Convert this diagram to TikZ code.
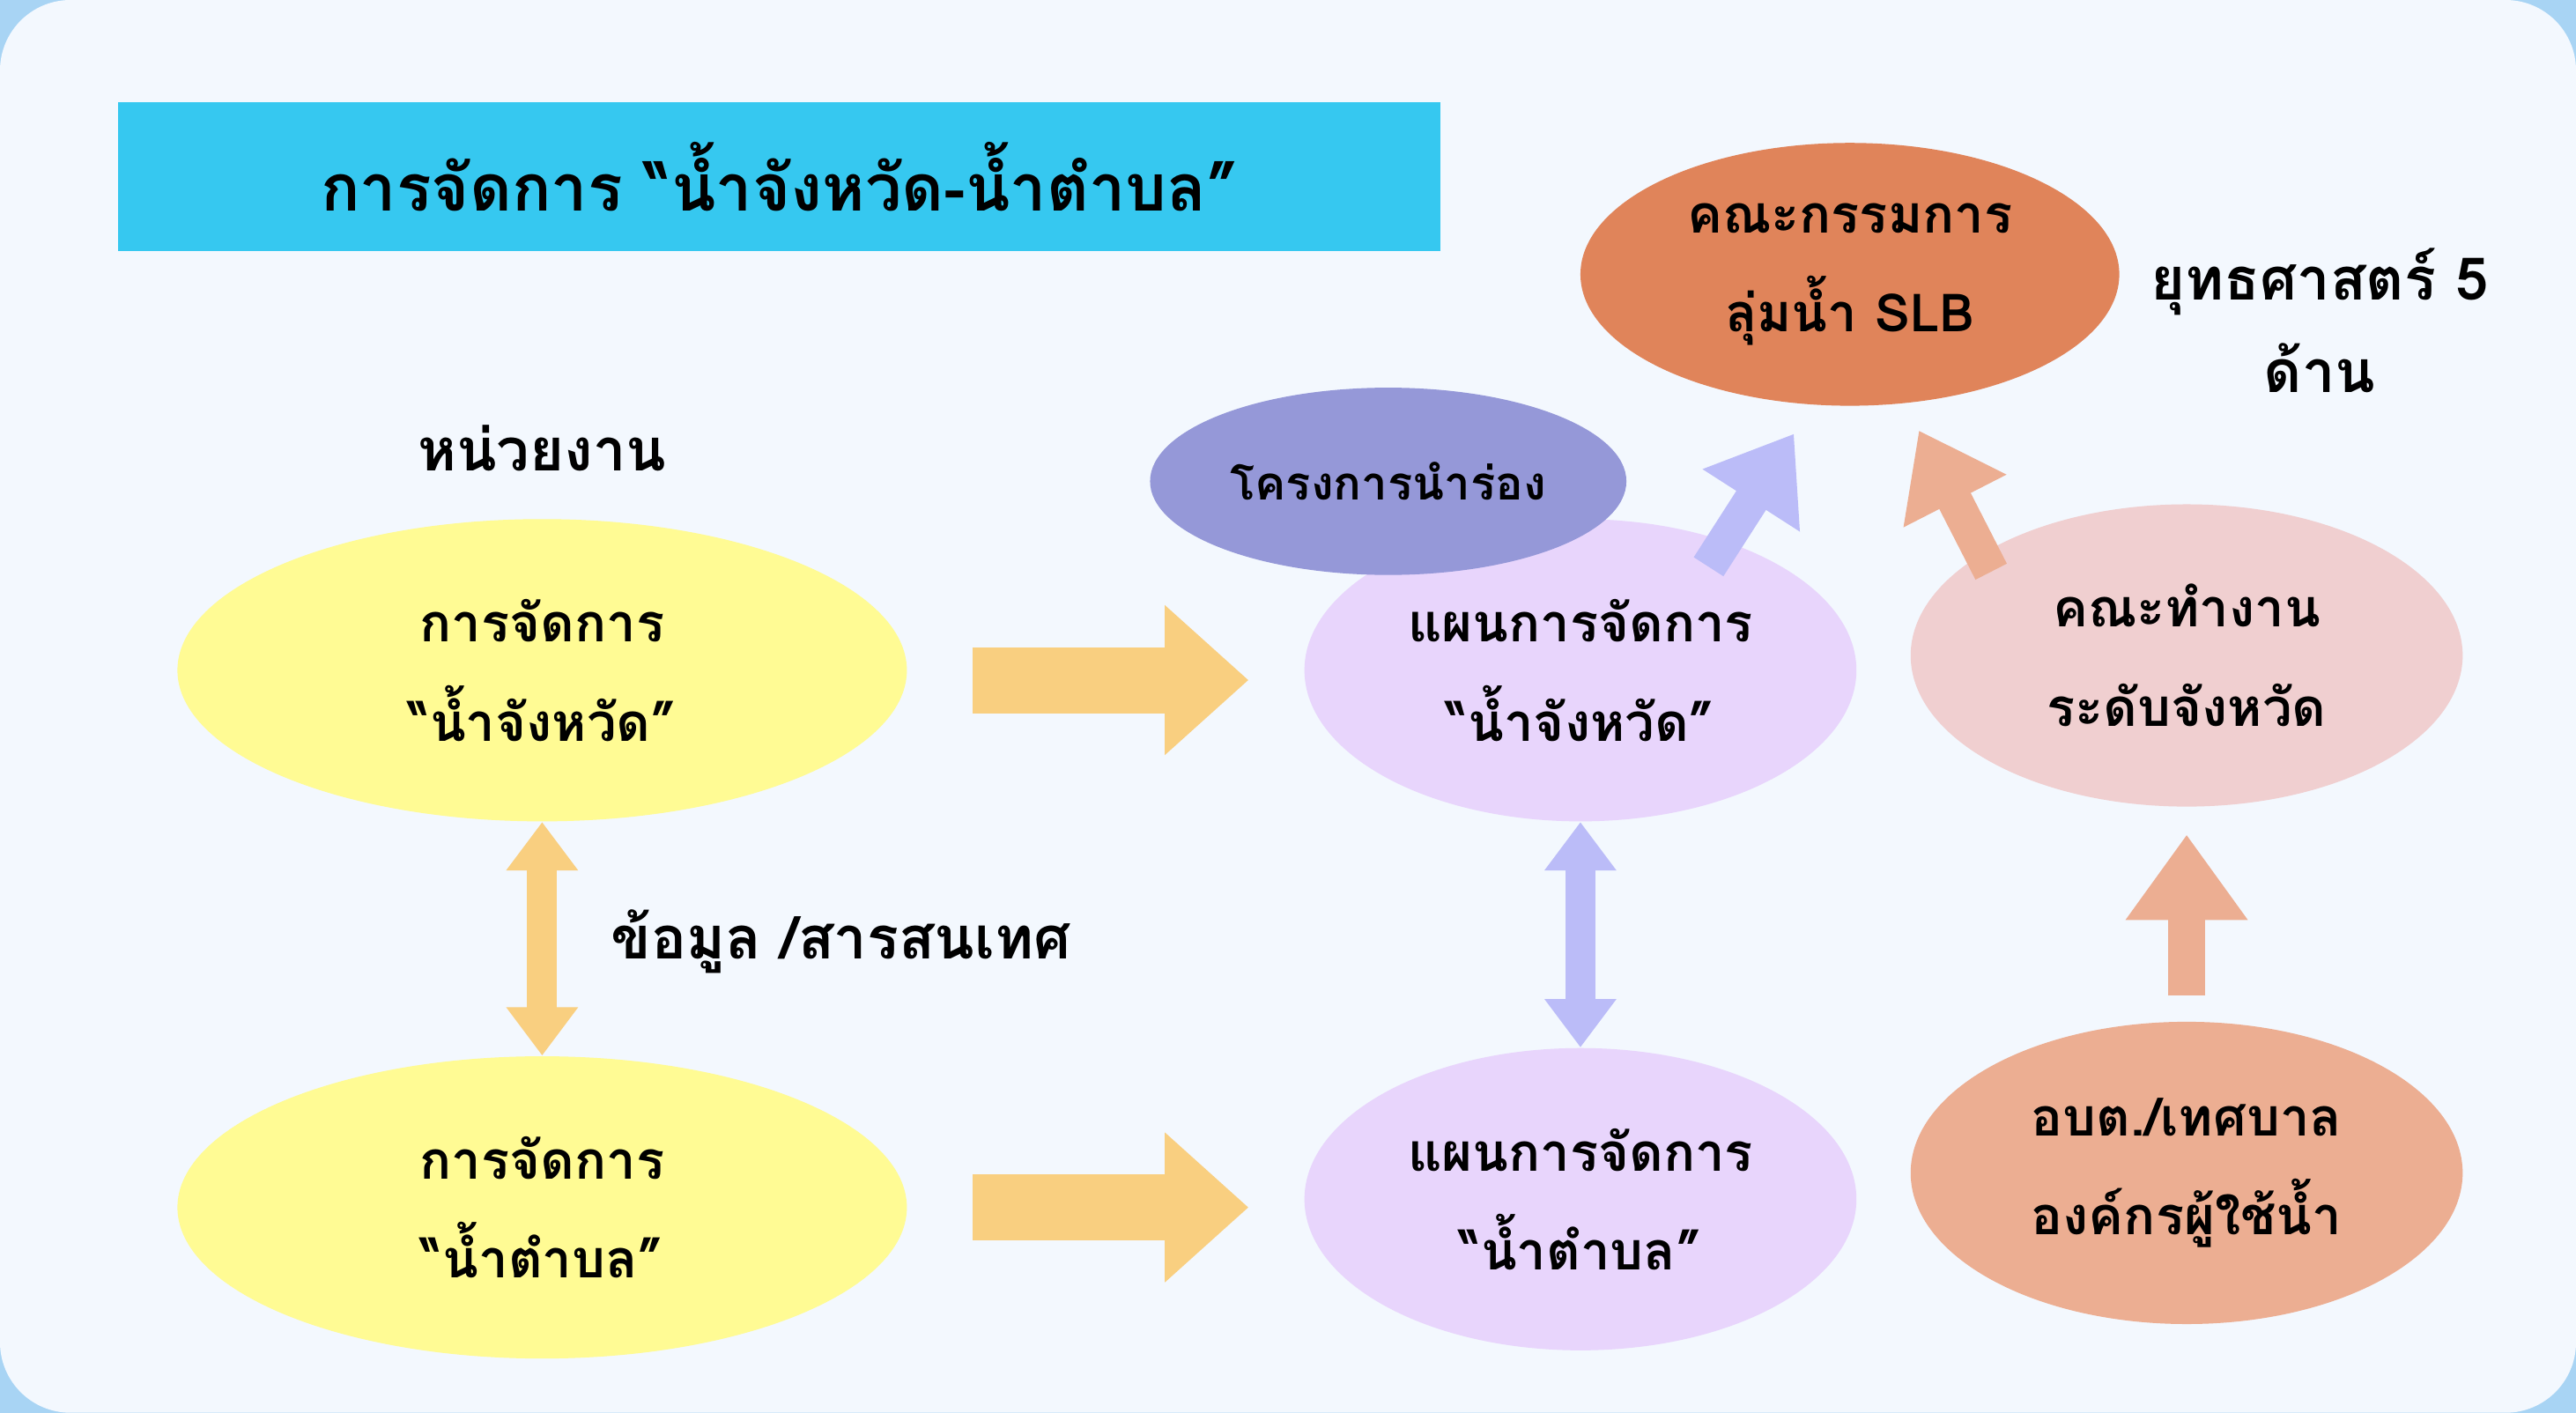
\documentclass[tikz,border=0pt]{standalone}
\usepackage{fontspec}
\newfontfamily\thaifont[Script=Thai]{Loma}
\usepackage{tikz}
\usetikzlibrary{arrows.meta, positioning, shapes.geometric}
\definecolor{bgblue}{HTML}{A8D4F4}
\definecolor{panel}{HTML}{F3F8FE}
\definecolor{titlecyan}{HTML}{36C8F0}
\definecolor{lemon}{HTML}{FFFB94}
\definecolor{lilac}{HTML}{E8D5FC}
\definecolor{violet}{HTML}{9598D8}
\definecolor{rust}{HTML}{E0845A}
\definecolor{rose}{HTML}{F0CFD0}
\definecolor{salmon}{HTML}{ECAE92}
\definecolor{mango}{HTML}{F9CF80}
\definecolor{periw}{HTML}{BBBCF8}
\tikzset{
  blob/.style={ellipse, fill=#1, align=center, font=\thaifont\bfseries\fontsize{17}{32}\selectfont},
  label/.style={align=center, font=\thaifont\bfseries\fontsize{19}{30}\selectfont},
  fatarrow/.style={draw=#1, line width=0.75cm, -{Triangle[length=0.95cm,width=1.64cm]}},
  slimboth/.style={draw=#1, line width=0.34cm, {Triangle[length=0.55cm,width=0.78cm]}-{Triangle[length=0.55cm,width=0.78cm]}},
}
\begin{document}
\begin{tikzpicture}[x=0.01865cm, y=-0.01865cm]
% background
\fill[bgblue] (0,0) rectangle (1568,860);
\useasboundingbox (0,0) rectangle (1568,860);
\fill[panel, rounded corners=0.8cm] (0,0) rectangle (1568,860);

% title
\node[fill=titlecyan, minimum width=805*0.01865cm, minimum height=91*0.01865cm,
  font=\thaifont\bfseries\fontsize{21}{26}\selectfont] (title) at (474.5,107.5) {การจัดการ “น้ำจังหวัด-น้ำตำบล”};

% left column
\node[label] (unit) at (330,273) {หน่วยงาน};
\node[blob=lemon, minimum width=444*0.01865cm, minimum height=184*0.01865cm] (provmgmt) at (330,408) {การจัดการ\\“น้ำจังหวัด”};
\node[blob=lemon, minimum width=444*0.01865cm, minimum height=184*0.01865cm] (tambmgmt) at (330,735) {การจัดการ\\“น้ำตำบล”};
\node[label] (info) at (512,573) {ข้อมูล /สารสนเทศ};

% middle column
\node[blob=lilac, minimum width=336*0.01865cm, minimum height=184*0.01865cm] (provplan) at (962,408) {แผนการจัดการ\\“น้ำจังหวัด”};
\node[blob=lilac, minimum width=336*0.01865cm, minimum height=184*0.01865cm] (tambplan) at (962,730) {แผนการจัดการ\\“น้ำตำบล”};
\node[blob=violet, minimum width=236*0.01865cm, minimum height=114*0.01865cm, font=\thaifont\bfseries\fontsize{15}{20}\selectfont] (pilot) at (845,293) {โครงการนำร่อง};

% right column
\node[blob=rust, minimum width=328*0.01865cm, minimum height=160*0.01865cm] (board) at (1126,167) {คณะกรรมการ\\ลุ่มน้ำ SLB};
\node[label] (strategy) at (1412,195) {ยุทธศาสตร์ 5\\ด้าน};
\node[blob=rose, minimum width=336*0.01865cm, minimum height=184*0.01865cm] (team) at (1331,399) {คณะทำงาน\\ระดับจังหวัด};
\node[blob=salmon, minimum width=336*0.01865cm, minimum height=184*0.01865cm] (local) at (1331,714) {อบต./เทศบาล\\องค์กรผู้ใช้น้ำ};

% arrow ends
\coordinate (a1s) at (592,414);  \coordinate (a1e) at (760,414);
\coordinate (a2s) at (592,735);  \coordinate (a2e) at (760,735);
\coordinate (a3s) at (1040,345); \coordinate (a3e) at (1092,264);
\coordinate (a4s) at (1212,348); \coordinate (a4e) at (1168,262);
\coordinate (a5s) at (1331,606); \coordinate (a5e) at (1331,508);

% connectors
\draw[fatarrow=mango] (a1s) -- (a1e);
\draw[fatarrow=mango] (a2s) -- (a2e);
\draw[fatarrow=periw, line width=0.4cm, -{Triangle[length=0.9cm,width=1.25cm]}] (a3s) -- (a3e);
\draw[fatarrow=salmon, line width=0.4cm, -{Triangle[length=0.9cm,width=1.25cm]}] (a4s) -- (a4e);
\draw[fatarrow=salmon, line width=0.42cm, -{Triangle[length=0.97cm,width=1.32cm]}] (a5s) -- (a5e);
\draw[slimboth=mango] (provmgmt) -- (tambmgmt);
\draw[slimboth=periw] (provplan) -- (tambplan);
\end{tikzpicture}
\end{document}
